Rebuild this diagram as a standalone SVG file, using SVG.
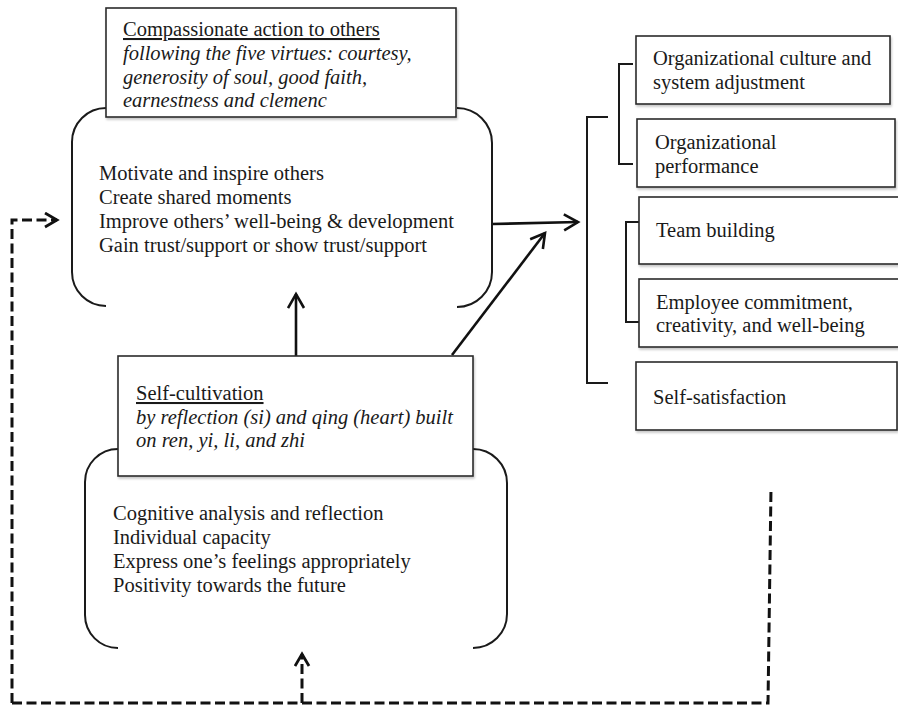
<svg xmlns="http://www.w3.org/2000/svg" width="898" height="708" viewBox="0 0 898 708">
<style>
text{font-family:"Liberation Serif","Times New Roman",serif;font-size:20.5px;fill:#1a1a1a}
.it{font-style:italic}
.ul{text-decoration:underline}
.box{fill:#fff;stroke:#2a2a2a;stroke-width:1.6;filter:url(#sh)}
.br{fill:none;stroke:#1a1a1a;stroke-width:2}
.ar{fill:none;stroke:#111;stroke-width:2.6}
.da{fill:none;stroke:#111;stroke-width:3;stroke-dasharray:10 4.5}
</style>
<defs>
<filter id="sh" x="-5%" y="-5%" width="110%" height="120%"><feDropShadow dx="1" dy="2" stdDeviation="1.2" flood-color="#000" flood-opacity="0.22"/></filter>
<marker id="ch" markerUnits="userSpaceOnUse" markerWidth="20" markerHeight="22" refX="15" refY="9" orient="auto" viewBox="0 0 20 22"><path d="M1,1 L15,9 L1,17" fill="none" stroke="#111" stroke-width="2.6"/></marker>
<marker id="chd" markerUnits="userSpaceOnUse" markerWidth="18" markerHeight="18" refX="13" refY="8" orient="auto" viewBox="0 0 18 18"><path d="M1,1 L13,8 L1,15" fill="none" stroke="#111" stroke-width="2.8"/></marker>
</defs>

<g id="connectors">
<path class="ar" d="M492,224 L578,222" marker-end="url(#ch)"/>
<path class="ar" d="M452,355 L545,233" marker-end="url(#ch)"/>
<path class="ar" d="M296,356 L296,294" marker-end="url(#ch)"/>
<path class="da" d="M12,703 L12,220 L57,220" marker-end="url(#chd)"/>
<path class="da" d="M12,703 L768,703 L771,488"/>
<path class="da" d="M302,703 L302,654" marker-end="url(#chd)"/>
</g>

<g id="compassion-group">
<path class="br" d="M106,108 A34,34 0 0 0 72,142 L72,272 A34,34 0 0 0 106,306"/>
<path class="br" d="M457,108 A35,35 0 0 1 492,143 L492,272 A35,35 0 0 1 457,307"/>
<text x="99" y="180">Motivate and inspire others</text>
<text x="99" y="204">Create shared moments</text>
<text x="99" y="228">Improve others’ well-being &amp; development</text>
<text x="99" y="252">Gain trust/support or show trust/support</text>
</g>
<g id="compassion">
<rect class="box" x="106" y="8" width="350" height="109"/>
<text x="123" y="36" class="ul">Compassionate action to others</text>
<text x="123" y="60" class="it">following the five virtues: courtesy,</text>
<text x="123" y="84" class="it">generosity of soul, good faith,</text>
<text x="123" y="107" class="it">earnestness and clemenc</text>
</g>

<g id="self-group">
<path class="br" d="M118,449 A33,33 0 0 0 85,482 L85,615 A33,33 0 0 0 118,648"/>
<path class="br" d="M473,449 A34,34 0 0 1 507,483 L507,614 A34,34 0 0 1 473,648"/>
<text x="113" y="520">Cognitive analysis and reflection</text>
<text x="113" y="544">Individual capacity</text>
<text x="113" y="568">Express one’s feelings appropriately</text>
<text x="113" y="592">Positivity towards the future</text>
</g>
<g id="self-cultivation">
<rect class="box" x="118" y="356" width="355" height="120"/>
<text x="136" y="400" class="ul">Self-cultivation</text>
<text x="136" y="424" class="it">by reflection (si) and qing (heart) built</text>
<text x="136" y="447" class="it">on ren, yi, li, and zhi</text>
</g>

<g id="brackets">
<path class="br" d="M608,117 L587,117 L587,383 L608,383"/>
<path class="br" d="M633,64 L619,64 L619,164 L633,164"/>
<path class="br" d="M640,222 L626,222 L626,322 L640,322"/>
</g>

<g id="org-culture">
<rect class="box" x="636" y="36" width="254" height="68"/>
<text x="653" y="65">Organizational culture and</text>
<text x="653" y="89">system adjustment</text>
</g>
<g id="org-performance">
<rect class="box" x="637" y="119" width="258" height="68"/>
<text x="655" y="149">Organizational</text>
<text x="655" y="173">performance</text>
</g>
<g id="team-building">
<rect class="box" x="639" y="197" width="262" height="67"/>
<text x="656" y="237">Team building</text>
</g>
<g id="employee">
<rect class="box" x="639" y="279" width="262" height="68"/>
<text x="656" y="309">Employee commitment,</text>
<text x="656" y="332">creativity, and well-being</text>
</g>
<g id="self-satisfaction">
<rect class="box" x="636" y="362" width="261" height="68"/>
<text x="653" y="404">Self-satisfaction</text>
</g>
</svg>
